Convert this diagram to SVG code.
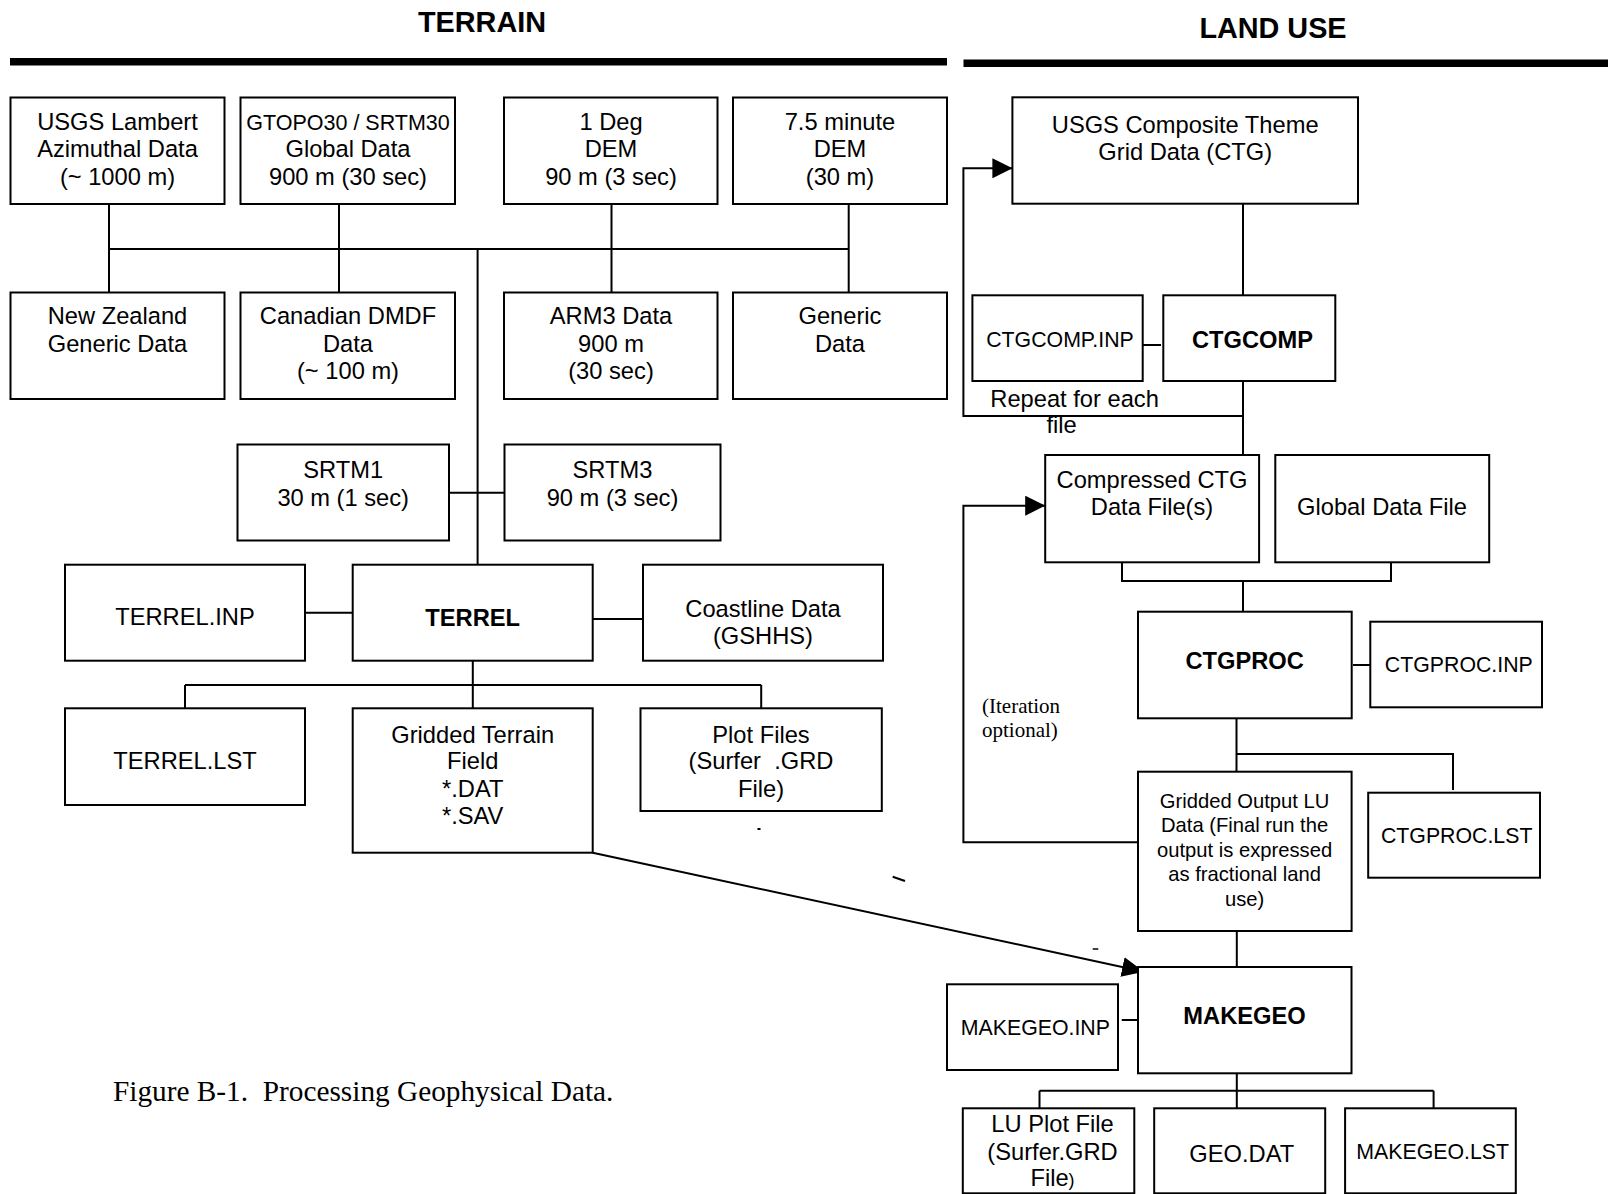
<svg xmlns="http://www.w3.org/2000/svg" width="1608" height="1194" viewBox="0 0 1608 1194">
<style>
.box{fill:#fff;stroke:#000;stroke-width:2}
.ln{fill:none;stroke:#000;stroke-width:2}
.t{font-family:"Liberation Sans",Arial,sans-serif;font-size:23.7px;text-anchor:middle;fill:#000}
.b{font-weight:bold}
.s{font-size:21.3px}
.xs{font-size:20.2px}
.h{font-family:"Liberation Sans",Arial,sans-serif;font-size:28.8px;font-weight:bold;text-anchor:middle;fill:#000}
.serif{font-family:"Liberation Serif","Times New Roman",serif;fill:#000}
.bar{fill:#000}
</style>
<defs>
<marker id="arr" markerUnits="userSpaceOnUse" markerWidth="20" markerHeight="20" refX="20" refY="10" orient="auto" viewBox="0 0 20 20">
<path d="M0,0 L20,10 L0,20 z" fill="#000"/>
</marker>
<marker id="arr2" markerUnits="userSpaceOnUse" markerWidth="22" markerHeight="20" refX="22" refY="10" orient="auto" viewBox="0 0 22 20">
<path d="M0,0 L22,10 L0,20 z" fill="#000"/>
</marker>
</defs>
<rect width="1608" height="1194" fill="#fff"/>

<g id="headers">
<text class="h" x="482" y="31.7">TERRAIN</text>
<text class="h" x="1273" y="38.3">LAND USE</text>
<rect class="bar" x="10" y="58" width="937" height="7.5"/>
<rect class="bar" x="963.5" y="59.5" width="644.5" height="7.5"/>
</g>

<g id="connectors">
<path class="ln" d="M109,204 V292.5 M339,204 V292.5 M611.5,204 V292.5 M848.7,204 V292.5 M109,249 H848.7 M477.6,249 V564.7"/>
<path class="ln" d="M449,492.7 H504.5"/>
<path class="ln" d="M305,612.7 H352.7 M592.7,619 H643"/>
<path class="ln" d="M472.8,660.7 V685 M185,685 H761.2 M185,685 V708.3 M472.8,685 V708.3 M761.2,685 V708.3"/>
<path class="ln" d="M592.7,852.7 L1144,971.7" marker-end="url(#arr2)"/>
<path class="ln" d="M1243,203.7 V295.3 M1243,381 V455"/>
<path class="ln" d="M1143,345 H1161"/>
<path class="ln" d="M1243,416 H963.4 V168.3 H1012.4" marker-end="url(#arr)"/>
<path class="ln" d="M1122,562.3 V581 H1391 V562.3 M1243,581 V611.7"/>
<path class="ln" d="M1353,665 H1370.3"/>
<path class="ln" d="M1143.7,842.3 H963.4 V505.7 H1045.2" marker-end="url(#arr)"/>
<path class="ln" d="M1236.5,718.3 V771.7 M1236.5,754 H1453 V790"/>
<path class="ln" d="M1236.8,931 V967"/>
<path class="ln" d="M1121.7,1020 H1138"/>
<path class="ln" d="M1236.8,1073.3 V1090.7 M1039.5,1090.7 H1433.6 M1039.5,1090.7 V1108.3 M1236.8,1090.7 V1108.3 M1433.6,1090.7 V1108.3"/>
</g>

<g id="n_usgs_lambert"><rect class="box" x="10.5" y="97.5" width="214" height="106.5"/>
<text class="t" x="117.5" y="129.5">USGS Lambert</text><text class="t" x="117.5" y="157">Azimuthal Data</text><text class="t" x="117.5" y="184.5">(~ 1000 m)</text></g>
<g id="n_gtopo"><rect class="box" x="240.5" y="97.5" width="214.5" height="106.5"/>
<text class="t" x="348" y="129.5" style="font-size:21.5px">GTOPO30 / SRTM30</text><text class="t" x="348" y="157">Global Data</text><text class="t" x="348" y="184.5">900 m (30 sec)</text></g>
<g id="n_1deg"><rect class="box" x="504" y="97.5" width="213.5" height="106.5"/>
<text class="t" x="611" y="129.5">1 Deg</text><text class="t" x="611" y="157">DEM</text><text class="t" x="611" y="184.5">90 m (3 sec)</text></g>
<g id="n_75min"><rect class="box" x="733" y="97.5" width="214" height="106.5"/>
<text class="t" x="840" y="129.5">7.5 minute</text><text class="t" x="840" y="157">DEM</text><text class="t" x="840" y="184.5">(30 m)</text></g>

<g id="n_nz"><rect class="box" x="10.5" y="292.5" width="214" height="106.5"/>
<text class="t" x="117.5" y="324">New Zealand</text><text class="t" x="117.5" y="351.5">Generic Data</text></g>
<g id="n_canadian"><rect class="box" x="240.5" y="292.5" width="214.5" height="106.5"/>
<text class="t" x="348" y="324">Canadian DMDF</text><text class="t" x="348" y="351.5">Data</text><text class="t" x="348" y="379">(~ 100 m)</text></g>
<g id="n_arm3"><rect class="box" x="504" y="292.5" width="213.5" height="106.5"/>
<text class="t" x="611" y="324">ARM3 Data</text><text class="t" x="611" y="351.5">900 m</text><text class="t" x="611" y="379">(30 sec)</text></g>
<g id="n_generic"><rect class="box" x="733" y="292.5" width="214" height="106.5"/>
<text class="t" x="840" y="324">Generic</text><text class="t" x="840" y="351.5">Data</text></g>

<g id="n_srtm1"><rect class="box" x="237.5" y="444.5" width="211.5" height="96"/>
<text class="t" x="343.2" y="478.3">SRTM1</text><text class="t" x="343.2" y="506">30 m (1 sec)</text></g>
<g id="n_srtm3"><rect class="box" x="504.5" y="444.5" width="216" height="96"/>
<text class="t" x="612.5" y="478.3">SRTM3</text><text class="t" x="612.5" y="506">90 m (3 sec)</text></g>

<g id="n_terrel_inp"><rect class="box" x="65" y="564.7" width="240" height="96"/>
<text class="t" x="185" y="625">TERREL.INP</text></g>
<g id="n_terrel"><rect class="box" x="352.7" y="564.7" width="240" height="96"/>
<text class="t b" x="472.7" y="625.7">TERREL</text></g>
<g id="n_coast"><rect class="box" x="643" y="564.7" width="240" height="96"/>
<text class="t" x="763" y="616.5">Coastline Data</text><text class="t" x="763" y="644">(GSHHS)</text></g>

<g id="n_terrel_lst"><rect class="box" x="65" y="708.3" width="240" height="96.7"/>
<text class="t" x="185" y="769">TERREL.LST</text></g>
<g id="n_gridded_terrain"><rect class="box" x="352.7" y="708.3" width="240" height="144.4"/>
<text class="t" x="472.7" y="742.7">Gridded Terrain</text><text class="t" x="472.7" y="769">Field</text><text class="t" x="472.7" y="796.7">*.DAT</text><text class="t" x="472.7" y="824.3">*.SAV</text></g>
<g id="n_plot_files"><rect class="box" x="640.5" y="708.3" width="241.3" height="102.7"/>
<text class="t" x="761" y="742.7">Plot Files</text><text class="t" x="761" y="769" xml:space="preserve">(Surfer  .GRD</text><text class="t" x="761" y="796.7">File)</text></g>

<g id="n_usgs_ctg"><rect class="box" x="1012.4" y="97.3" width="345.6" height="106.4"/>
<text class="t" x="1185.2" y="133.3">USGS Composite Theme</text><text class="t" x="1185.2" y="160">Grid Data (CTG)</text></g>
<g id="n_ctgcomp_inp"><rect class="box" x="972.4" y="295.3" width="170.3" height="85.7"/>
<text class="t s" x="1060" y="346.7">CTGCOMP.INP</text></g>
<g id="n_ctgcomp"><rect class="box" x="1163.3" y="295.3" width="172" height="85.7"/>
<text class="t b" x="1252.5" y="348.3">CTGCOMP</text></g>
<g id="lbl_repeat">
<text class="t" x="990.3" y="406.7" style="text-anchor:start">Repeat for each</text>
<text class="t" x="1046.5" y="433.3" style="text-anchor:start">file</text></g>

<g id="n_compressed"><rect class="box" x="1045.2" y="455" width="213.9" height="107.3"/>
<text class="t" x="1152" y="488.3">Compressed CTG</text><text class="t" x="1152" y="515">Data File(s)</text></g>
<g id="n_global"><rect class="box" x="1275.3" y="455" width="213.9" height="107.3"/>
<text class="t" x="1382" y="515">Global Data File</text></g>
<g id="n_ctgproc"><rect class="box" x="1138" y="611.7" width="213.7" height="106.6"/>
<text class="t b" x="1244.6" y="669.3">CTGPROC</text></g>
<g id="n_ctgproc_inp"><rect class="box" x="1370.3" y="621.7" width="171.7" height="85.6"/>
<text class="t s" x="1458.8" y="672.3">CTGPROC.INP</text></g>
<g id="lbl_iteration">
<text class="serif" x="982" y="713.3" style="font-size:21px">(Iteration</text>
<text class="serif" x="982" y="737" style="font-size:21px">optional)</text></g>
<g id="n_gridded_lu"><rect class="box" x="1138" y="771.7" width="213.6" height="159.3"/>
<text class="t xs" x="1244.6" y="807.7">Gridded Output LU</text><text class="t xs" x="1244.6" y="832.2">Data (Final run the</text><text class="t xs" x="1244.6" y="856.7">output is expressed</text><text class="t xs" x="1244.6" y="881.2">as fractional land</text><text class="t xs" x="1244.6" y="905.7">use)</text></g>
<g id="n_ctgproc_lst"><rect class="box" x="1368.2" y="792.7" width="171.8" height="85"/>
<text class="t s" x="1456.7" y="843.3">CTGPROC.LST</text></g>
<g id="n_makegeo"><rect class="box" x="1138" y="967" width="213.5" height="106.3"/>
<text class="t b" x="1244.5" y="1024">MAKEGEO</text></g>
<g id="n_makegeo_inp"><rect class="box" x="947" y="984.3" width="171" height="85.7"/>
<text class="t s" x="1035.4" y="1035">MAKEGEO.INP</text></g>
<g id="n_lu_plot"><rect class="box" x="962.8" y="1108.3" width="171.5" height="85"/>
<text class="t" x="1052.5" y="1131.7">LU Plot File</text><text class="t" x="1052.5" y="1160">(Surfer.GRD</text><text class="t" x="1052.5" y="1186">File<tspan style="font-size:18px">)</tspan></text></g>
<g id="n_geo_dat"><rect class="box" x="1154.2" y="1108.3" width="171" height="85"/>
<text class="t" x="1241.8" y="1161.7">GEO.DAT</text></g>
<g id="n_makegeo_lst"><rect class="box" x="1345.1" y="1108.3" width="170.7" height="85"/>
<text class="t s" x="1432.7" y="1159">MAKEGEO.LST</text></g>

<g id="caption">
<text class="serif" x="113" y="1100.7" style="font-size:29.3px" xml:space="preserve">Figure B-1.  Processing Geophysical Data.</text></g>

<g id="marks">
<path d="M892.7,876.7 L905,881" stroke="#000" stroke-width="2"/>
<path d="M1092.7,949 H1098.3" stroke="#000" stroke-width="1.5"/>
<rect x="757.5" y="828" width="3" height="2" fill="#000"/>
</g>
</svg>
